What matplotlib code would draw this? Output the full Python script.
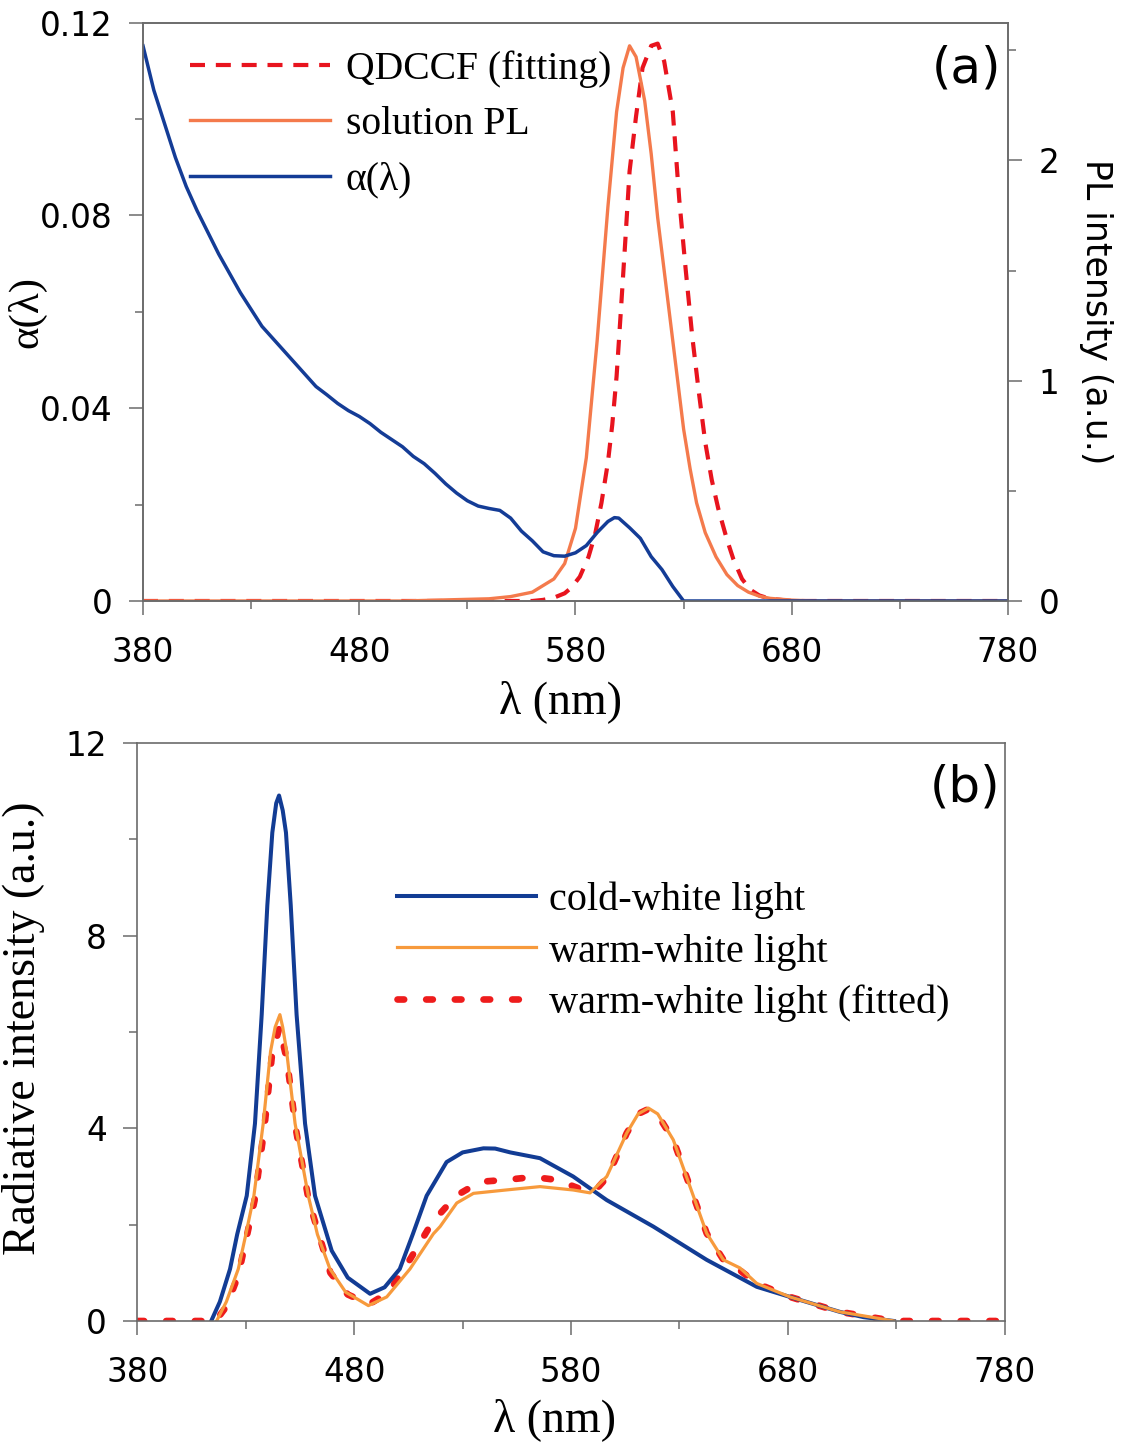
import numpy as np
import matplotlib.pyplot as plt

# ---- panel (a) data ----
lam_alpha = [380, 385, 390, 395, 400, 405, 410, 415, 420, 425, 430, 435, 440, 445,
             450, 455, 460, 465, 470, 475, 480, 485, 490, 495, 500, 505, 510, 515,
             520, 525, 530, 535, 540, 545, 550, 555, 560, 565, 570, 575, 580, 585,
             590, 595, 598, 600, 605, 610, 615, 620, 625, 630, 680, 730, 780]
alpha_vals = [0.1152, 0.106, 0.099, 0.092, 0.086, 0.081, 0.0765, 0.072, 0.068, 0.064,
              0.0605, 0.057, 0.0545, 0.052, 0.0495, 0.047, 0.0445, 0.0428, 0.041, 0.0395,
              0.0383, 0.0368, 0.035, 0.0335, 0.032, 0.030, 0.0285, 0.0265, 0.0243, 0.0224,
              0.0208, 0.0197, 0.0192, 0.0188, 0.0172, 0.0145, 0.0125, 0.0102, 0.0094,
              0.0093, 0.0100, 0.0115, 0.0142, 0.0165, 0.0173, 0.0172, 0.0152, 0.0130,
              0.0092, 0.0065, 0.0030, 0.0, 0.0, 0.0, 0.0]

lam_pl = [380, 450, 500, 540, 550, 560, 565, 570, 575, 580, 585, 590, 595, 599, 602,
          605, 608, 612, 615, 618, 621, 624, 627, 630, 633, 636, 640, 645, 650, 655,
          660, 665, 670, 680, 690, 780]
pl_vals = [0, 0, 0, 0.01, 0.02, 0.04, 0.07, 0.10, 0.17, 0.33, 0.65, 1.18, 1.79, 2.22,
           2.42, 2.52, 2.47, 2.27, 2.03, 1.74, 1.50, 1.26, 1.02, 0.78, 0.60, 0.445,
           0.31, 0.20, 0.12, 0.07, 0.04, 0.022, 0.012, 0.004, 0, 0]

lam_fit = [380, 500, 560, 565, 570, 575, 578, 582, 586, 589, 592, 595, 597, 599, 601,
           603, 605, 608, 611, 615, 618, 621, 625, 628, 631, 634, 637, 640, 643, 646,
           650, 653, 657, 661, 665, 670, 680, 780]
fit_vals = [0, 0, 0, 0.005, 0.015, 0.035, 0.06, 0.11, 0.20, 0.30, 0.445, 0.63, 0.80,
            1.02, 1.32, 1.63, 1.95, 2.20, 2.42, 2.52, 2.53, 2.45, 2.22, 1.82, 1.50,
            1.20, 0.95, 0.72, 0.55, 0.42, 0.28, 0.19, 0.10, 0.05, 0.025, 0.01, 0, 0]

# ---- panel (b) data ----
lam_cold = [414, 418, 422.7, 426, 430.4, 434.2, 437.3, 439.9, 442.2, 444, 445.3, 447,
            448.5, 450.7, 453.4, 457.3, 461.9, 469.6, 477, 487.3, 494, 501, 507, 513.4,
            522.6, 530, 539.6, 545, 552, 565.7, 581, 596.5, 618, 642.6, 665.7, 681,
            704, 715, 729]
cold_vals = [0, 0.4, 1.08, 1.8, 2.6, 4.1, 6.36, 8.63, 10.14, 10.75, 10.91, 10.6, 10.14,
             8.63, 6.36, 4.1, 2.6, 1.46, 0.9, 0.565, 0.7, 1.08, 1.8, 2.6, 3.3, 3.5,
             3.585, 3.58, 3.5, 3.38, 3.0, 2.51, 1.96, 1.27, 0.71, 0.5, 0.19, 0.08, 0]

lam_warm = [416.5, 421, 426.5, 430, 433.7, 438, 441.4, 443.5, 445.7, 447, 448.8, 452.7,
            458.8, 463, 468.8, 476, 486.5, 495, 505.7, 516.5, 519.6, 527.3, 535, 550,
            565.7, 581, 588.8, 596.5, 605.7, 611, 615.7, 620, 627.2, 634.9, 642.6,
            650.3, 658, 665.7, 681, 704, 729]
warm_vals = [0, 0.4, 1.08, 1.8, 2.6, 4.1, 5.6, 6.1, 6.36, 6.1, 5.6, 4.1, 2.6, 1.8, 1.08,
             0.6, 0.32, 0.5, 1.08, 1.81, 1.96, 2.45, 2.65, 2.72, 2.79, 2.72, 2.66, 3.0,
             3.9, 4.3, 4.42, 4.3, 3.76, 2.79, 1.82, 1.27, 1.1, 0.78, 0.5, 0.19, 0]

lam_fitted = [380, 416, 421, 426.5, 434, 438.5, 442, 445.5, 449, 453, 459, 469, 477,
              487, 496, 506, 516, 527, 538, 550, 562.6, 573.3, 585.6, 592, 597, 605.7,
              611, 615.7, 620, 627.2, 634.9, 642.6, 650.3, 658, 665.7, 681, 704, 729, 780]
fitted_vals = [0, 0, 0.3, 0.95, 2.5, 4.0, 5.5, 6.1, 5.4, 4.0, 2.5, 1.0, 0.55, 0.35, 0.6,
               1.3, 2.05, 2.6, 2.89, 2.93, 2.99, 2.93, 2.72, 2.75, 3.0, 3.9, 4.3, 4.4,
               4.28, 3.76, 2.79, 1.82, 1.27, 1.05, 0.78, 0.5, 0.19, 0, 0]

x_ticks = [380, 480, 580, 680, 780]
x_minor = [430, 530, 630, 730]
a_ticks = [0, 0.04, 0.08, 0.12]
a_labels = ["0", "0.04", "0.08", "0.12"]
pl_ticks = [0, 1, 2]
b_ticks = [0, 4, 8, 12]

spine_col = "#6b6b6b"
serif = ["Liberation Serif", "DejaVu Serif"]


def style_axes(ax):
    for s in ax.spines.values():
        s.set_color(spine_col)
        s.set_linewidth(1.2)
    ax.tick_params(which="both", direction="out", color=spine_col, width=1.1,
                   labelsize=23.5, pad=12)
    ax.tick_params(which="major", length=10)
    ax.tick_params(which="minor", length=5.5)


fig = plt.figure(figsize=(11.25, 14.44), dpi=100)

# ---------- (a) ----------
ax1 = fig.add_axes([0.12711, 0.58380, 0.76889, 0.40049])
ax2 = ax1.twinx()
ax1.set_zorder(ax2.get_zorder() + 1)
ax1.patch.set_visible(False)

l_fit, = ax2.plot(lam_fit, fit_vals, color="#e8141e", lw=3.0, dashes=(3.6, 2.6),
                  label="QDCCF (fitting)")
l_pl, = ax2.plot(lam_pl, pl_vals, color="#f47a4c", lw=2.4, label="solution PL")
l_al, = ax1.plot(lam_alpha, alpha_vals, color="#143c96", lw=2.5, label=r"α(λ)")

ax1.set_xlim(380, 780)
ax1.set_ylim(0, 0.12)
ax2.set_ylim(0, 2.625)
ax1.set_xticks(x_ticks)
ax1.set_xticks(x_minor, minor=True)
ax1.set_yticks(a_ticks)
ax1.set_yticklabels(a_labels)
ax1.set_yticks([0.02, 0.06, 0.10], minor=True)
ax2.set_yticks(pl_ticks)
ax2.set_yticks([0.5, 1.5, 2.5], minor=True)
style_axes(ax1)
style_axes(ax2)
ax1.tick_params(axis="x", pad=15)

ax1.set_xlabel("λ (nm)", family=serif, fontsize=33, va="top")
ax1.xaxis.set_label_coords(0.483, -0.137)
ax1.set_ylabel("α(λ)", family=serif, fontsize=31)
ax1.yaxis.set_label_coords(-0.112, 0.5)
ax2.set_ylabel("PL intensity (a.u.)", fontsize=25, rotation=270, va="bottom")
ax2.yaxis.set_label_coords(1.082, 0.5)

ax1.text(0.992, 0.92, "(a)", transform=ax1.transAxes, fontsize=36,
         ha="right", va="center")
ax1.legend(handles=[l_fit, l_pl, l_al], loc="upper left",
           bbox_to_anchor=(0.0543, 0.952), borderaxespad=0, borderpad=0,
           frameon=False, handlelength=3.55, handletextpad=0.38, labelspacing=0.46,
           prop={"family": serif, "size": 28.5})

# ---------- (b) ----------
ax3 = fig.add_axes([0.12222, 0.08518, 0.77067, 0.40028])
l_fd, = ax3.plot(lam_fitted, fitted_vals, color="#ee1c1c", lw=4.8, dashes=(1.0, 3.3),
                 dash_capstyle="round", label="warm-white light (fitted)")
l_cw, = ax3.plot(lam_cold, cold_vals, color="#123c94", lw=2.9, label="cold-white light")
l_ww, = ax3.plot(lam_warm, warm_vals, color="#f79a3c", lw=2.3, label="warm-white light")

ax3.set_xlim(380, 780)
ax3.set_ylim(0, 12)
ax3.set_xticks(x_ticks)
ax3.set_xticks(x_minor, minor=True)
ax3.set_yticks(b_ticks)
ax3.set_yticks([2, 6, 10], minor=True)
style_axes(ax3)
ax3.tick_params(axis="x", pad=15)

ax3.set_xlabel("λ (nm)", family=serif, fontsize=33, va="top")
ax3.xaxis.set_label_coords(0.4815, -0.134)
ax3.set_ylabel("Radiative intensity (a.u.)", family=serif, fontsize=33)
ax3.yaxis.set_label_coords(-0.107, 0.507)

ax3.text(0.9948, 0.923, "(b)", transform=ax3.transAxes, fontsize=36,
         ha="right", va="center")
ax3.legend(handles=[l_cw, l_ww, l_fd], loc="upper left",
           bbox_to_anchor=(0.2993, 0.760), borderaxespad=0, borderpad=0,
           frameon=False, handlelength=3.45, handletextpad=0.33, labelspacing=0.35,
           prop={"family": serif, "size": 29})

fig.savefig("out.png", dpi=100)
